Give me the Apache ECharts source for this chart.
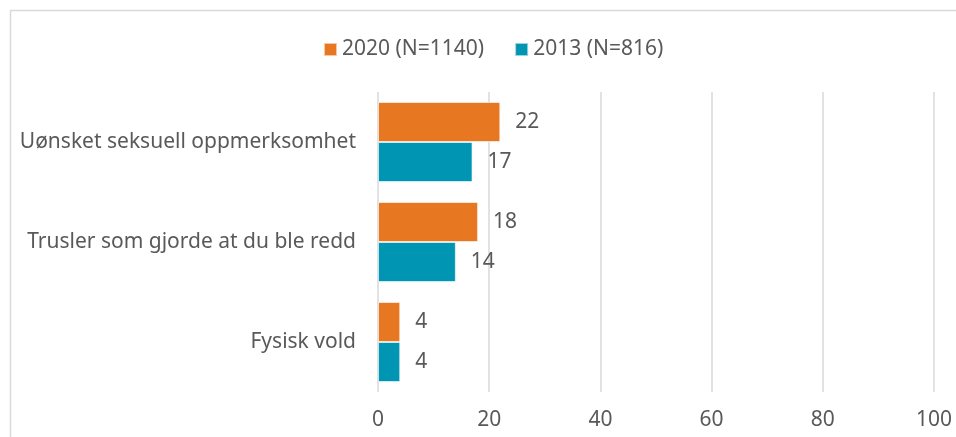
<!DOCTYPE html>
<html>
<head>
<meta charset="utf-8">
<script src="https://cdn.jsdelivr.net/npm/echarts@6/dist/echarts.min.js"></script>
<style>
  html, body { margin: 0; padding: 0; background: #fff; }
  #chart { width: 956px; height: 437px; }
</style>
</head>
<body>
<div id="chart"></div>
<script>
// kategorier, ovenfra og ned
const categories = ["Uønsket seksuell oppmerksomhet", "Trusler som gjorde at du ble redd", "Fysisk vold"]
const seriesNames = ["2020 (N=1140)", "2013 (N=816)"]
const values2020 = [22, 18, 4]
const values2013 = [17, 14, 4]
const xTicks = { min: 0, max: 100, interval: 20 }

const textColor = "#595959"
const fontFamily = "'Noto Sans', sans-serif"
const fontSize = 21

const chart = echarts.init(document.getElementById("chart"))

const makeSeries = (name, data, color) => ({
	name,
	type: "bar",
	data,
	barGap: "0%",
	barCategoryGap: "20%",
	itemStyle: { color, borderColor: "rgba(255,255,255,0.6)", borderWidth: 1 },
	label: {
		show: true,
		position: "right",
		distance: 15,
		color: textColor,
		fontFamily,
		fontSize
	}
})

const options = {
	animation: false,
	graphic: [{
		type: "rect",
		left: 8,
		top: 8,
		shape: { width: 960, height: 440 },
		style: { fill: "none", stroke: "#d9d9d9", lineWidth: 1.5 },
		silent: true
	}],
	legend: {
		top: 39,
		left: 323,
		padding: 0,
		itemWidth: 13,
		itemHeight: 13,
		itemGap: 30,
		icon: "rect",
		textStyle: { color: textColor, fontFamily, fontSize },
		data: seriesNames
	},
	grid: { left: 378, right: 22, top: 92, bottom: 45, containLabel: false },
	xAxis: {
		type: "value",
		min: xTicks.min,
		max: xTicks.max,
		interval: xTicks.interval,
		axisLine: { show: false },
		axisTick: { show: false },
		axisLabel: { color: textColor, fontFamily, fontSize, margin: 18 },
		splitLine: { show: true, lineStyle: { color: "#d9d9d9", width: 1.5 } }
	},
	yAxis: {
		type: "category",
		data: categories,
		inverse: true,
		axisLine: { show: false },
		axisTick: { show: false },
		axisLabel: { color: textColor, fontFamily, fontSize, margin: 22 }
	},
	series: [
		makeSeries(seriesNames[0], values2020, "#E87722"),
		makeSeries(seriesNames[1], values2013, "#0095B3")
	]
}

chart.setOption(options)
</script>
</body>
</html>
